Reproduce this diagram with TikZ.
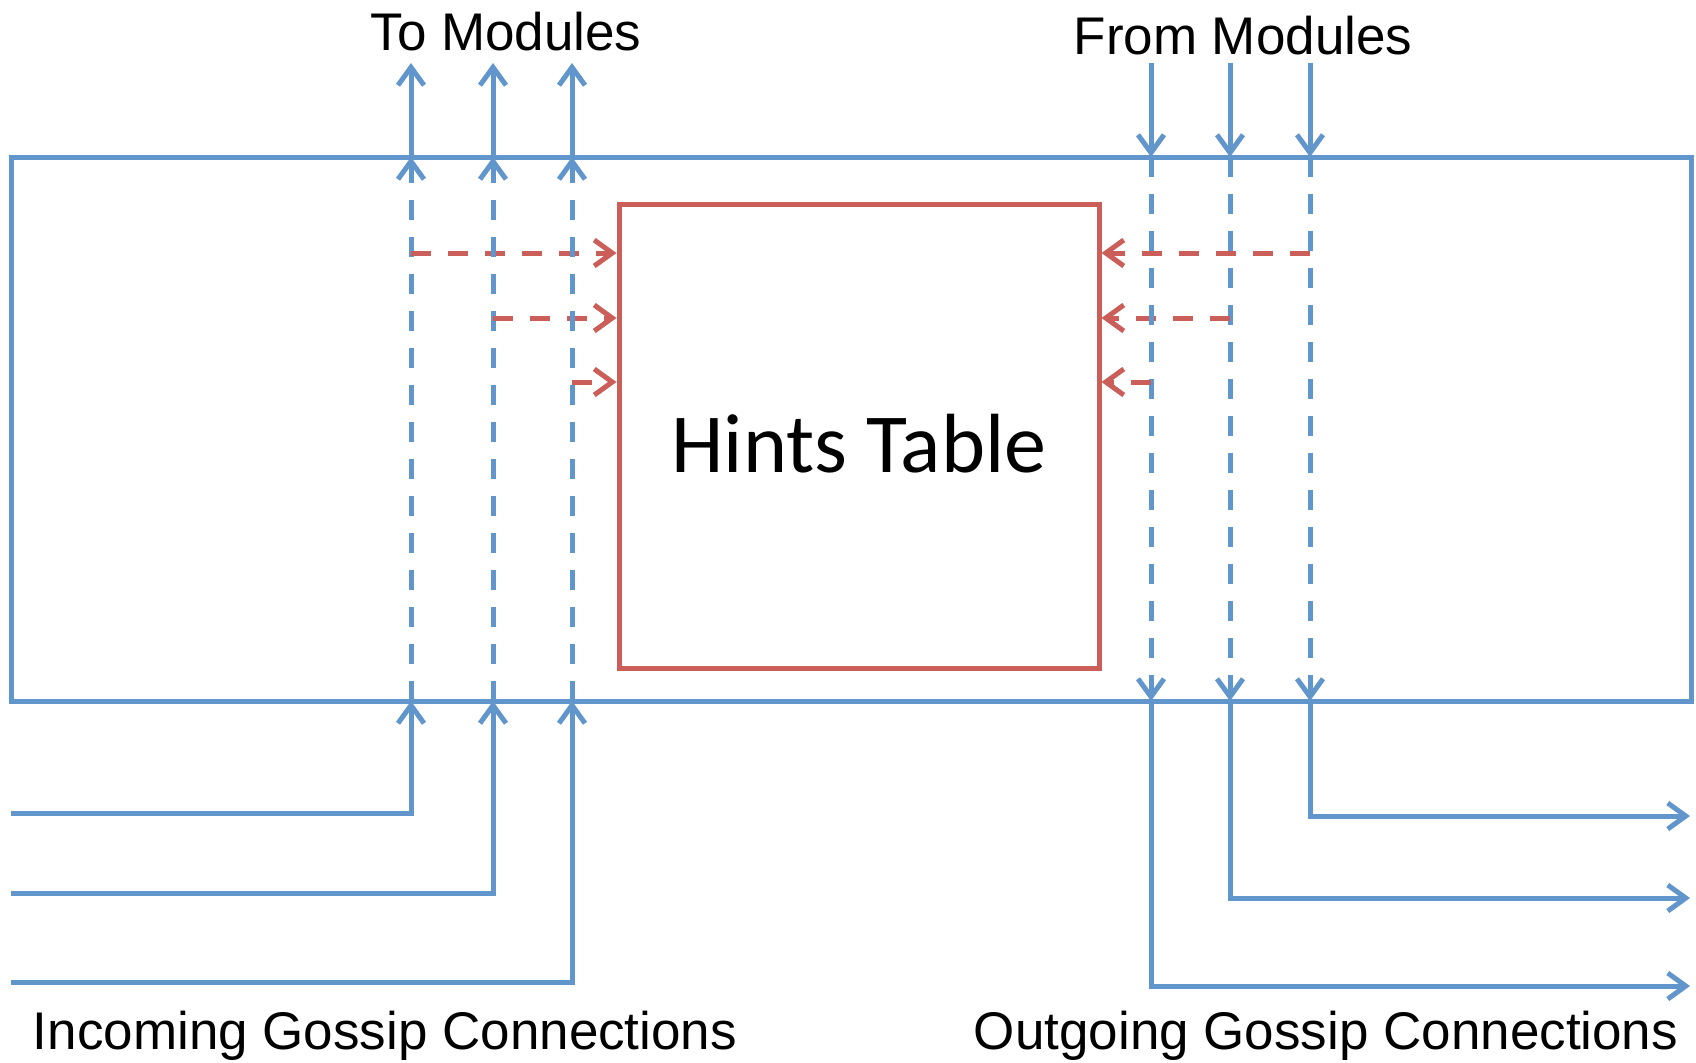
\documentclass[tikz,border=0pt]{standalone}
\usepackage{fontspec}
\setmainfont{Liberation Sans}
\newfontfamily\tablefont{Carlito}
\usetikzlibrary{arrows.meta,positioning}
\definecolor{gossipblue}{RGB}{96,150,204}
\definecolor{hintred}{RGB}{204,94,90}

\begin{document}
\begin{tikzpicture}[x=0.5pt,y=-0.5pt,
   wire/.style={gossipblue,line width=2.5pt},
   hop/.style={wire,-{Straight Barb[length=9pt,width=13pt]}},
   dash18/.style={dash pattern=on 10pt off 8.5pt},
   hint/.style={hintred,line width=2.5pt,dash18,-{Straight Barb[length=9pt,width=13pt]}},
   label/.style={font=\fontsize{26.5}{30}\selectfont,inner sep=0pt}]
   \useasboundingbox (0,0) rectangle (1696,1062);
   \node[draw=gossipblue,line width=2.5pt,minimum width=840pt,minimum height=272pt,inner sep=0pt] (module) at (851,429) {};
   \node[draw=hintred,line width=2.5pt,minimum width=240pt,minimum height=232pt,inner sep=0pt,
         text height=36pt,text depth=0pt,
         font=\tablefont\fontsize{42}{48}\selectfont] (hints) at (859,436) {Hints Table};
   % incoming side
   \foreach \i/\x/\yl/\yr in {1/411/813/253, 2/493/893/318, 3/572/982/382} {
      \coordinate (in\i) at (11,\yl);
      \coordinate (ib\i) at (\x,701);
      \coordinate (it\i) at (\x,157);
      \coordinate (iu\i) at (\x,63);
      \coordinate (ih\i) at (\x,\yr);
      \draw[hop] (in\i) -| (ib\i);
      \draw[hop,dash18] (ib\i) -- (it\i);
      \draw[hop] (it\i) -- (iu\i);
      \draw[hint] (ih\i) -- (ih\i -| hints.west);
   }
   % outgoing side
   \foreach \i/\x/\yl/\yr in {1/1310/816/253, 2/1230/898/318, 3/1151/986/382} {
      \coordinate (ou\i) at (\x,63);
      \coordinate (ot\i) at (\x,157);
      \coordinate (ob\i) at (\x,701);
      \coordinate (out\i) at (1690,\yl);
      \coordinate (oh\i) at (\x,\yr);
      \draw[hop] (ou\i) -- (ot\i);
      \draw[hop,dash18] (ot\i) -- (ob\i);
      \draw[hop] (ob\i) |- (out\i);
      \draw[hint] (oh\i) -- (oh\i -| hints.east);
   }
   \node[label] (tomod) at (506,32) {To Modules};
   \node[label] (frommod) at (1243,36) {From Modules};
   \node[label] (incoming) at (385,1036) {Incoming Gossip Connections};
   \node[label] (outgoing) at (1326,1036) {Outgoing Gossip Connections};
\end{tikzpicture}
\end{document}
